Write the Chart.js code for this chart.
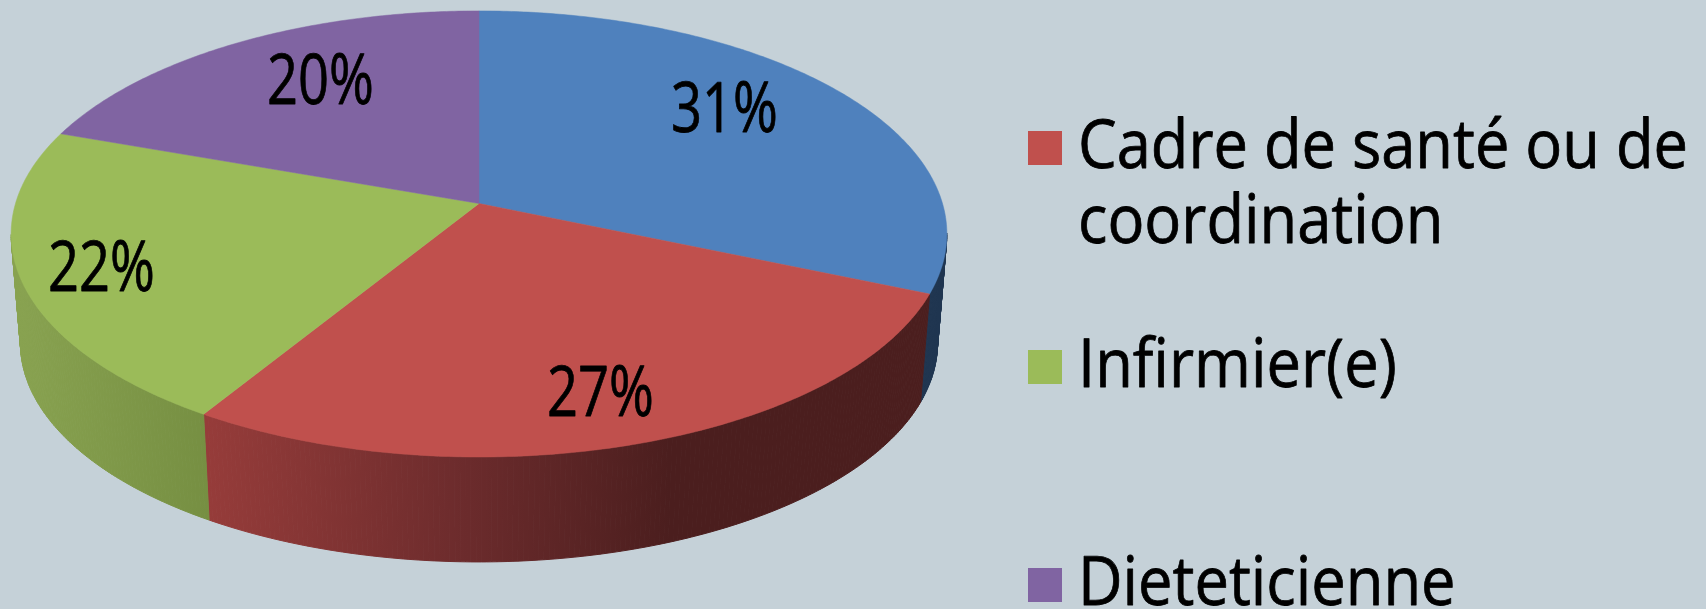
<!DOCTYPE html>
<html lang="fr">
<head>
<meta charset="utf-8">
<title>Répartition par profession</title>
<script src="https://cdn.jsdelivr.net/npm/chart.js@4"></script>
<style>
  html, body { margin: 0; padding: 0; background: #c5d1d8; overflow: hidden; }
  #wrap { position: relative; width: 1706px; height: 609px; }
</style>
</head>
<body>
<div id="wrap"><canvas id="pieChart" width="1706" height="609"></canvas></div>
<script>
// Données (la première catégorie, en bleu, sort du cadre dans la légende)
const categories = ["", ["Cadre de santé ou de", "coordination"], ["Infirmier(e)"], ["Dieteticienne"]];
const values = [31.4, 27.4, 21.6, 19.6];
const topColors = ["#4f81bd", "#c0504d", "#9bbb59", "#8064a2"];
const sideStops = [
  [[0, "#1f3550"], [1, "#1f3550"]],
  [[0, "#963c3a"], [0.53, "#6b2b2c"], [0.94, "#4b1e1e"], [1, "#4b1e1e"]],
  [[0, "#88a250"], [1, "#768f42"]],
  [[0, "#4a3a60"], [1, "#4a3a60"]],
];

// Projection en perspective du disque vers l'écran
const view = { cx: 479, cy: 203.5, a: 463.5, q: 218.9, p: 0.1365, depth: 110, shrink: 0.98 };

function project(angle, lower) {
  const u = Math.cos(angle);
  const v = Math.sin(angle);
  const s = 1 / (1 - view.p * v);
  const k = lower ? view.shrink : 1;
  return {
    x: view.cx + view.a * k * u * s,
    y: view.cy + (lower ? view.depth : 0) + view.q * k * v * s,
  };
}

// Texte resserré horizontalement pour approcher la police d'origine
function drawSqueezed(ctx, text, x, y, scaleX, weight) {
  ctx.save();
  ctx.translate(x, y);
  ctx.scale(scaleX, 1);
  ctx.lineWidth = weight;
  ctx.strokeStyle = "#000";
  ctx.lineJoin = "round";
  ctx.strokeText(text, 0, 0);
  ctx.fillText(text, 0, 0);
  ctx.restore();
}

const pie3d = {
  id: "pie3d",
  beforeDatasetsDraw(chart) {
    const ctx = chart.ctx;
    const arcs = chart.getDatasetMeta(0).data;

    // Flancs d'abord, le dessus les recouvre
    arcs.forEach((arc, i) => {
      const grad = ctx.createLinearGradient(i === 1 ? 208 : 20, 0, i === 1 ? 700 : 208, 0);
      sideStops[i].forEach(([pos, c]) => grad.addColorStop(pos, c));
      ctx.fillStyle = grad;
      ctx.strokeStyle = grad;
      ctx.lineWidth = 1;
      const steps = Math.ceil((arc.endAngle - arc.startAngle) / 0.01);
      for (let n = 0; n < steps; n++) {
        const a1 = arc.startAngle + ((arc.endAngle - arc.startAngle) * n) / steps;
        const a2 = arc.startAngle + ((arc.endAngle - arc.startAngle) * (n + 1)) / steps;
        // la face arrière ne se voit pas
        if (Math.sin(a2) < view.p) continue;
        const p1 = project(a1, false);
        const p2 = project(a2, false);
        const p3 = project(a2, true);
        const p4 = project(a1, true);
        ctx.beginPath();
        ctx.moveTo(p1.x, p1.y);
        ctx.lineTo(p2.x, p2.y);
        ctx.lineTo(p3.x, p3.y);
        ctx.lineTo(p4.x, p4.y);
        ctx.closePath();
        ctx.fill();
        ctx.stroke();
      }
    });

    // Parts du dessus
    arcs.forEach((arc, i) => {
      ctx.beginPath();
      ctx.moveTo(view.cx, view.cy);
      const steps = Math.ceil((arc.endAngle - arc.startAngle) / 0.01);
      for (let n = 0; n <= steps; n++) {
        const pt = project(arc.startAngle + ((arc.endAngle - arc.startAngle) * n) / steps, false);
        ctx.lineTo(pt.x, pt.y);
      }
      ctx.closePath();
      ctx.fillStyle = topColors[i];
      ctx.strokeStyle = topColors[i];
      ctx.lineWidth = 0.5;
      ctx.fill();
      ctx.stroke();
    });
    return false;
  },
  // beforeDatasetsDraw renvoie false, donc les textes passent dans afterDraw
  afterDraw(chart, args, opts) {
    const ctx = chart.ctx;
    ctx.fillStyle = "#000";
    ctx.textBaseline = "alphabetic";
    ctx.textAlign = "left";

    // Pourcentages
    ctx.font = opts.valueFont;
    values.forEach((v, i) => {
      const text = Math.round(v) + "%";
      const [x, y] = opts.valueAt[i];
      drawSqueezed(ctx, text, x, y, opts.valueWidth / ctx.measureText(text).width, 0.8);
    });

    // Légende
    ctx.font = opts.legendFont;
    const scaleX = opts.legendWidth / ctx.measureText(categories[1][0]).width;
    opts.legendRows.forEach((row, n) => {
      const i = n + 1;
      ctx.fillStyle = topColors[i];
      ctx.fillRect(opts.boxX, row, opts.boxSize, opts.boxSize);
      ctx.fillStyle = "#000";
      categories[i].forEach((line, l) => {
        drawSqueezed(ctx, line, opts.textX, row + 37 + l * opts.lineHeight, scaleX, 0.8);
      });
    });
  },
};

new Chart(document.getElementById("pieChart"), {
  type: "pie",
  data: {
    labels: categories,
    datasets: [{ data: values, backgroundColor: topColors, borderWidth: 0 }],
  },
  options: {
    responsive: false,
    animation: false,
    events: [],
    plugins: {
      legend: { display: false },
      tooltip: { enabled: false },
      pie3d: {
        valueFont: '70px "Open Sans"',
        valueWidth: 107,
        valueAt: [[671, 132], [547, 416], [48, 291], [267, 104]],
        legendFont: '68px "Open Sans"',
        legendWidth: 610,
        legendRows: [131, 350, 568],
        boxX: 1028,
        boxSize: 34,
        textX: 1078,
        lineHeight: 75,
      },
    },
  },
  plugins: [pie3d],
});
</script>
</body>
</html>
